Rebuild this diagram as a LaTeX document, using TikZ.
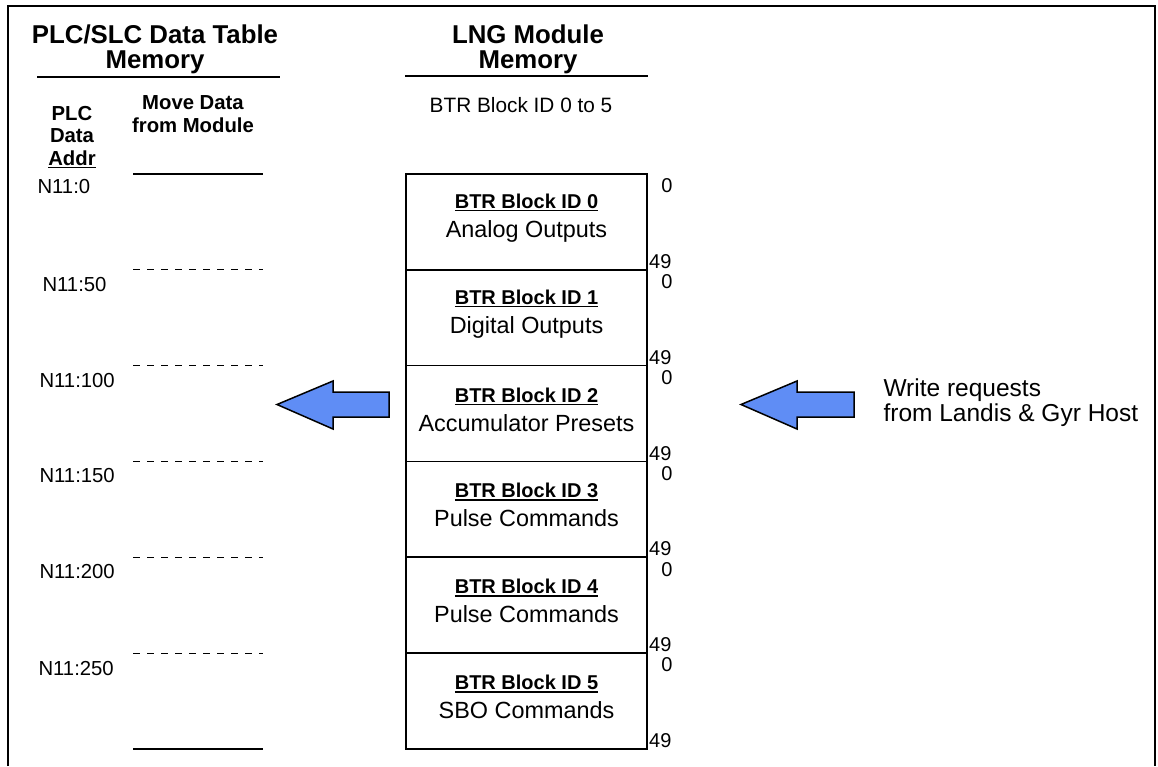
\documentclass[tikz,border=0pt]{standalone}
\usepackage{fontspec}
\setmainfont{Liberation Sans}
\usetikzlibrary{positioning}
\definecolor{arrowblue}{RGB}{95,141,245}
\newcommand{\ulbold}[1]{\setbox0=\hbox{\bfseries #1}\leavevmode\rlap{\rule[-3pt]{\wd0}{1.5pt}}\box0}

\begin{document}
\begin{tikzpicture}
      [x=1pt, y=-1pt, text centered,
       frame/.style={line width=2.5pt},
       rule/.style={line width=1.8pt},
       dashrule/.style={line width=0.9pt, dash pattern=on 7pt off 7pt},
       title/.style={align=center, font=\fontsize{25.8}{25}\selectfont\bfseries},
       colhead/.style={align=center, font=\fontsize{20.3}{22.5}\selectfont\bfseries},
       addr/.style={anchor=west, font=\fontsize{20.3}{22}\selectfont},
       block/.style={draw, line width=1.5pt, minimum width=241pt, minimum height=95.8pt, outer sep=0pt, inner sep=0pt},
       blocktext/.style={align=center, font=\fontsize{23.4}{29}\selectfont},
       idnum/.style={font=\fontsize{20}{24}\selectfont, inner sep=0pt},
       bigarrow/.style={draw, line width=1.5pt, fill=arrowblue, line join=miter}]

      \useasboundingbox (0,0) rectangle (1158,766);
      \draw[frame] (8,766) -- (8,6) -- (1155,6) -- (1155,766);

      %nodes
      \node[title] (plctitle) at (155,49) {PLC/SLC Data Table\\Memory};
      \node[title] (lngtitle) at (528,49) {LNG Module\\Memory};
      \draw[rule] (37,77) -- (280,77);
      \draw[rule] (405,76) -- (648,76);

      \node[colhead] (addrhead) at (72,137) {PLC\\Data\\\ulbold{Addr}};
      \node[colhead] (movehead) at (193,114) {Move Data\\from Module};
      \node[font=\fontsize{20.8}{24}\selectfont] (range) at (521,105) {BTR Block ID 0 to 5};

      \node[block] (b0) at (526.5,221.9) {};
      \node[block, below=0pt of b0] (b1) {};
      \node[block, below=0pt of b1] (b2) {};
      \node[block, below=0pt of b2] (b3) {};
      \node[block, below=0pt of b3] (b4) {};
      \node[block, below=0pt of b4] (b5) {};

      \node[blocktext] (t0) at ([yshift=4]b0.center) {{\fontsize{20}{24}\selectfont\ulbold{BTR Block ID 0}}\\Analog Outputs};
      \node[blocktext] (t1) at ([yshift=4]b1.center) {{\fontsize{20}{24}\selectfont\ulbold{BTR Block ID 1}}\\Digital Outputs};
      \node[blocktext] (t2) at ([yshift=4]b2.center) {{\fontsize{20}{24}\selectfont\ulbold{BTR Block ID 2}}\\Accumulator Presets};
      \node[blocktext] (t3) at ([yshift=4]b3.center) {{\fontsize{20}{24}\selectfont\ulbold{BTR Block ID 3}}\\Pulse Commands};
      \node[blocktext] (t4) at ([yshift=4]b4.center) {{\fontsize{20}{24}\selectfont\ulbold{BTR Block ID 4}}\\Pulse Commands};
      \node[blocktext] (t5) at ([yshift=4]b5.center) {{\fontsize{20}{24}\selectfont\ulbold{BTR Block ID 5}}\\SBO Commands};

      \foreach \k in {0,...,5} {
        \node[idnum] (first\k) at ([xshift=20, yshift=-12]b\k.north east) {0};
        \node[idnum, anchor=south west] (last\k) at ([xshift=2, yshift=1]b\k.south east) {49};
      }

      \node[addr] (n0) at (34,187) {N11:0};
      \node[addr] (n1) at (39,285) {N11:50};
      \node[addr] (n2) at (36,381) {N11:100};
      \node[addr] (n3) at (36,476) {N11:150};
      \node[addr] (n4) at (36,572) {N11:200};
      \node[addr] (n5) at (35,668) {N11:250};

      % rules of the data table %
      \draw[rule] (b0.north -| 133,0) -- (b0.north -| 263,0);
      \foreach \k in {1,...,5}
        \draw[dashrule] (b\k.north -| 133,0) -- (b\k.north -| 263,0);
      \draw[rule] (b5.south -| 133,0) -- (b5.south -| 263,0);

      % arrows %
      \draw[bigarrow] (389,392) -- (333,392) -- (333,381) -- (277,404.5) -- (333,429) -- (333,417) -- (389,417) -- cycle;
      \draw[bigarrow] (854,392) -- (797,392) -- (797,381) -- (741,404.5) -- (797,429) -- (797,417) -- (854,417) -- cycle;
      \node[align=left, anchor=west, font=\fontsize{24.5}{25}\selectfont] (host) at (880,402.5) {Write requests\\from Landis \& Gyr Host};
    \end{tikzpicture}
\end{document}
